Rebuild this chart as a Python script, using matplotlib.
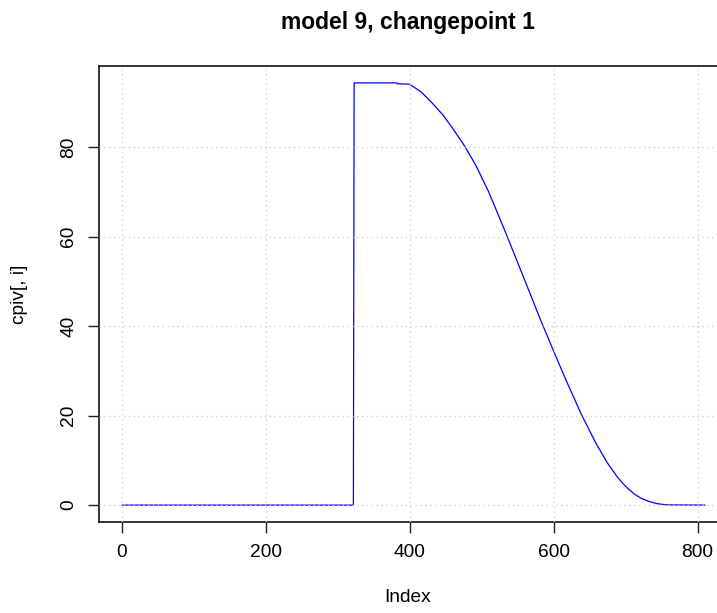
import matplotlib
matplotlib.use("Agg")
import matplotlib.pyplot as plt

# values (index -> cpiv[, i])
index = [1, 322, 323, 382, 383, 400, 416, 432, 446, 460, 476, 492, 510, 532,
         557, 583, 600, 615, 638, 659, 675, 689, 700, 712, 722, 733, 743, 757, 810]
cpiv = [0.0, 0.0, 94.4, 94.4, 94.2, 94.1, 92.4, 89.8, 87.3, 84.2, 80.4, 76.0,
        70.0, 61.5, 51.5, 41.0, 34.5, 28.8, 20.5, 13.8, 9.4, 6.2, 4.2, 2.5,
        1.5, 0.8, 0.35, 0.05, 0.0]

xticks = [0, 200, 400, 600, 800]
yticks = [0, 20, 40, 60, 80]

title = "model 9, changepoint 1"
xlab = "Index"
ylab = "cpiv[, i]"

plt.rcParams["font.family"] = ["Liberation Sans", "DejaVu Sans"]

W, H = 717, 613
fig = plt.figure(figsize=(W / 100, H / 100), dpi=100)
left, right, top, bottom = 99, 728, 66, 522
ax = fig.add_axes([left / W, (H - bottom) / H, (right - left) / W, (bottom - top) / H])

ax.plot(index, cpiv, color="#0000FF", lw=0.9, zorder=2)

# R-style 4% padding of the data range
xr = max(index) - min(index)
ax.set_xlim(min(index) - 0.04 * xr, max(index) + 0.04 * xr)
yr = max(cpiv) - min(cpiv)
ax.set_ylim(min(cpiv) - 0.04 * yr, max(cpiv) + 0.04 * yr)

ax.set_xticks(xticks)
ax.set_yticks(yticks)
ax.set_yticklabels([str(v) for v in yticks], rotation=90, va="center")
ax.tick_params(axis="both", direction="out", length=7.6, width=1.0,
               labelsize=13.8, pad=8, colors="#222222", labelcolor="black")

# grid() style: light gray dotted, drawn over the line
for v in xticks:
    ax.axvline(v, color="#D3D3D3", lw=1.0, ls=(0, (1, 2.5)), zorder=3)
for v in yticks:
    ax.axhline(v, color="#D3D3D3", lw=1.0, ls=(0, (1, 2.5)), zorder=3)

for s in ax.spines.values():
    s.set_linewidth(1.2)
    s.set_color("#111111")

fig.text((left + 717) / 2 / W, 1 - 22 / H, title, ha="center", va="center",
         fontsize=16.5, fontweight="bold")
fig.text((left + 717) / 2 / W, 1 - 598 / H, xlab, ha="center", va="center", fontsize=13.8)
fig.text(20 / W, 1 - 294 / H, ylab, ha="center", va="center", fontsize=13.8, rotation=90)

fig.savefig("out.png", dpi=100)
